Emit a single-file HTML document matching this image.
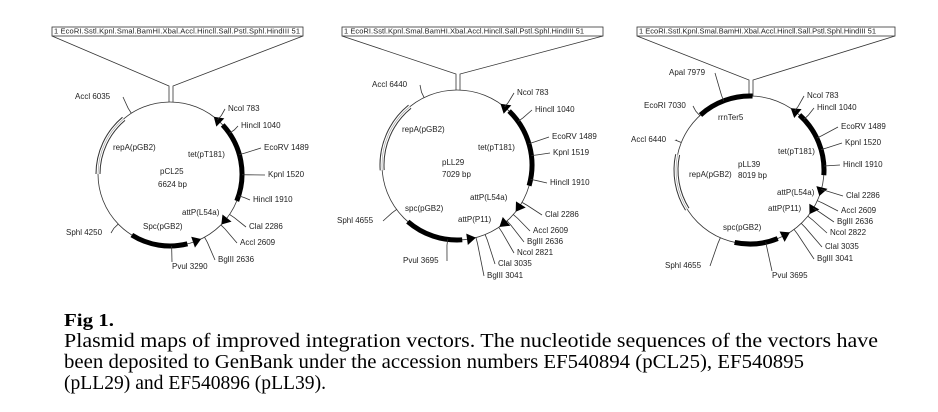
<!DOCTYPE html>
<html><head><meta charset="utf-8"><style>
html,body{margin:0;padding:0;background:#fff;}
svg{display:block}
.l{font-family:"Liberation Sans",sans-serif;font-size:8px;fill:#222;dominant-baseline:middle}
.c{font-family:"Liberation Serif",serif;fill:#000}
.bx{font-family:"Liberation Sans",sans-serif;font-size:7.5px;fill:#222;dominant-baseline:middle}
</style></head><body>
<svg id="s" width="938" height="412" viewBox="0 0 938 412" xmlns="http://www.w3.org/2000/svg">
<g id="g" stroke="#333" fill="none" stroke-width="0.8"></g>
<rect x="52" y="27" width="251" height="9" fill="#fff" stroke="#333" stroke-width="0.8"/>
<text class="bx" x="54" y="31.5" textLength="246">1 EcoRI.Sstl.Kpnl.Smal.BamHI.Xbal.Accl.Hincll.Sall.Pstl.Sphl.HindIII 51</text>
<rect x="342" y="27" width="261" height="9" fill="#fff" stroke="#333" stroke-width="0.8"/>
<text class="bx" x="344" y="31.5" textLength="240">1 EcoRI.Sstl.Kpnl.Smal.BamHI.Xbal.Accl.Hincll.Sall.Pstl.Sphl.HindIII 51</text>
<rect x="637" y="27" width="258" height="9" fill="#fff" stroke="#333" stroke-width="0.8"/>
<text class="bx" x="639" y="31.5" textLength="237">1 EcoRI.Sstl.Kpnl.Smal.BamHI.Xbal.Accl.Hincll.Sall.Pstl.Sphl.HindIII 51</text>

<g class="l">
<text x="75" y="97">Accl 6035</text>
<text x="228" y="109">Ncol 783</text>
<text x="241" y="126">Hincll 1040</text>
<text x="264" y="148">EcoRV 1489</text>
<text x="268" y="175">Kpnl 1520</text>
<text x="253" y="200">Hincll 1910</text>
<text x="249" y="227">Clal 2286</text>
<text x="240" y="243">Accl 2609</text>
<text x="218" y="260">BglII 2636</text>
<text x="172" y="267">Pvul 3290</text>
<text x="66" y="233">Sphl 4250</text>
<text x="113" y="148">repA(pGB2)</text>
<text x="188" y="155">tet(pT181)</text>
<text x="160" y="172">pCL25</text>
<text x="158" y="185">6624 bp</text>
<text x="182" y="213">attP(L54a)</text>
<text x="143" y="227">Spc(pGB2)</text>

<text x="372" y="85">Accl 6440</text>
<text x="517" y="93">Ncol 783</text>
<text x="535" y="110">Hincll 1040</text>
<text x="552" y="137">EcoRV 1489</text>
<text x="553" y="153">Kpnl 1519</text>
<text x="550" y="183">Hincll 1910</text>
<text x="545" y="215">Clal 2286</text>
<text x="533" y="231">Accl 2609</text>
<text x="527" y="242">BglII 2636</text>
<text x="517" y="253">Ncol 2821</text>
<text x="498" y="264">Clal 3035</text>
<text x="487" y="276">BglII 3041</text>
<text x="403" y="261">Pvul 3695</text>
<text x="337" y="221">Sphl 4655</text>
<text x="402" y="130">repA(pGB2)</text>
<text x="478" y="148">tet(pT181)</text>
<text x="442" y="163">pLL29</text>
<text x="442" y="175">7029 bp</text>
<text x="470" y="198">attP(L54a)</text>
<text x="405" y="209">spc(pGB2)</text>
<text x="458" y="220">attP(P11)</text>

<text x="669" y="73">Apal 7979</text>
<text x="644" y="106">EcoRI 7030</text>
<text x="631" y="140">Accl 6440</text>
<text x="807" y="96">Ncol 783</text>
<text x="817" y="108">Hincll 1040</text>
<text x="841" y="127">EcoRV 1489</text>
<text x="845" y="143">Kpnl 1520</text>
<text x="843" y="165">Hincll 1910</text>
<text x="846" y="196">Clal 2286</text>
<text x="841" y="211">Accl 2609</text>
<text x="837" y="222">BglII 2636</text>
<text x="830" y="233">Ncol 2822</text>
<text x="825" y="247">Clal 3035</text>
<text x="817" y="259">BglII 3041</text>
<text x="772" y="276">Pvul 3695</text>
<text x="665" y="266">Sphl 4655</text>
<text x="718" y="118">rrnTer5</text>
<text x="778" y="152">tet(pT181)</text>
<text x="738" y="165">pLL39</text>
<text x="738" y="176">8019 bp</text>
<text x="689" y="175">repA(pGB2)</text>
<text x="777" y="193">attP(L54a)</text>
<text x="768" y="209">attP(P11)</text>
<text x="723" y="228">spc(pGB2)</text>
</g>

<text class="c" x="64" y="326" font-size="18" font-weight="bold" textLength="50" lengthAdjust="spacingAndGlyphs">Fig 1.</text>
<text class="c" x="64" y="347" font-size="20" textLength="814" lengthAdjust="spacingAndGlyphs">Plasmid maps of improved integration vectors. The nucleotide sequences of the vectors have</text>
<text class="c" x="64" y="368" font-size="20" textLength="740" lengthAdjust="spacingAndGlyphs">been deposited to GenBank under the accession numbers EF540894 (pCL25), EF540895</text>
<text class="c" x="64" y="389" font-size="20" textLength="262" lengthAdjust="spacingAndGlyphs">(pLL29) and EF540896 (pLL39).</text>
</svg>
<script>
var NS="http://www.w3.org/2000/svg",g=document.getElementById('g');
function el(t,a){var e=document.createElementNS(NS,t);for(var k in a)e.setAttribute(k,a[k]);g.appendChild(e);return e;}
function P(c,r,a){a=a*Math.PI/180;return [c[0]+r*Math.sin(a),c[1]-r*Math.cos(a)];}
function arc(c,r,a1,a2){var p=P(c,r,a1),q=P(c,r,a2),sw=a2>a1?1:0,l=Math.abs(a2-a1)>180?1:0;return "M"+p+" A"+r+","+r+" 0 "+l+","+sw+" "+q;}
function thick(c,r,a1,a2,w){el('path',{d:arc(c,r,a1,a2),stroke:'#000','stroke-width':w});}
function head(c,r,a,dir,s){var tip=P(c,r,a),b=a-dir*s*1.2,b1=P(c,r+s,b),b2=P(c,r-s,b);
 el('path',{d:"M"+tip+" L"+b1+" L"+b2+" Z",fill:'#000',stroke:'#000'});}
function hollow(c,r,a1,a2){el('path',{d:arc(c,r,a1,a2),stroke:'#333','stroke-width':5});el('path',{d:arc(c,r,a1,a2),stroke:'#fff','stroke-width':3});el('path',{d:arc(c,r,a1,a2),stroke:'#999','stroke-width':0.6});}
function plasmid(c,r,box){
 el('circle',{cx:c[0],cy:c[1],r:r});
 var top=c[1]-r,mx=c[0]+1;
 el('path',{d:"M"+box[0]+","+box[2]+" L"+(mx-2)+","+(top-16)+" L"+(mx-2)+","+top});
 el('path',{d:"M"+box[1]+","+box[2]+" L"+(mx+2)+","+(top-16)+" L"+(mx+2)+","+top});
}
function lead(c,r,x,y,side){var dx=x-c[0],dy=y-c[1],a=Math.atan2(dx,-dy)*180/Math.PI,p=P(c,r,a),q=P(c,r+6,a);
 var ex=side>0?x-2:x+2;el('path',{d:"M"+p+" L"+q+" L"+ex+","+y});}
var C1=[170,174],R1=72,C2=[457,165],R2=75,C3=[750,170],R3=74;
plasmid(C1,R1,[52,303,36]);plasmid(C2,R2,[342,603,36]);plasmid(C3,R3,[637,895,36]);
thick(C1,R1,47,112,5);head(C1,R1,38,-1,5);
head(C1,R1,134,1,5);
thick(C1,R1,212,166,5);head(C1,R1,155,-1,5);
hollow(C1,R1,320,270);
thick(C2,R2,44,106,5);head(C2,R2,36,-1,5);
head(C2,R2,128,1,5);head(C2,R2,145,1,5);
thick(C2,R2,221,176,5);head(C2,R2,166,-1,5);
hollow(C2,R2,321,266);
thick(C3,R3,318,362,5);
thick(C3,R3,42,94,5);head(C3,R3,34,-1,5);
head(C3,R3,110,1,5);head(C3,R3,126,1,5);
thick(C3,R3,192,158,5);head(C3,R3,148,-1,5);
hollow(C3,R3,282,238);
var L1=[[121,97,-1],[227,109,1],[240,126,1],[263,148,1],[267,175,1],[252,200,1],[248,227,1],[239,243,1],[217,260,1],[172,262,0],[109,233,-1]];
var L2=[[418,85,-1],[516,93,1],[534,110,1],[551,137,1],[552,153,1],[549,183,1],[544,215,1],[532,231,1],[526,242,1],[516,253,1],[497,264,1],[486,276,1],[445,261,-1],[381,221,-1]];
var L3=[[713,73,-1],[691,106,-1],[675,140,-1],[806,96,1],[816,108,1],[840,127,1],[844,143,1],[842,165,1],[845,196,1],[840,211,1],[836,222,1],[829,233,1],[824,247,1],[816,259,1],[772,271,0],[708,266,-1]];
function doL(C,R,L){L.forEach(function(v){if(v[2]==0){var dx=v[0]-C[0],dy=v[1]-C[1],a=Math.atan2(dx,-dy)*180/Math.PI,p=P(C,R,a);el('path',{d:"M"+p+" L"+v[0]+","+v[1]});}else lead(C,R,v[0],v[1],v[2]);});}
doL(C1,R1,L1);doL(C2,R2,L2);doL(C3,R3,L3);
</script>
</body></html>
